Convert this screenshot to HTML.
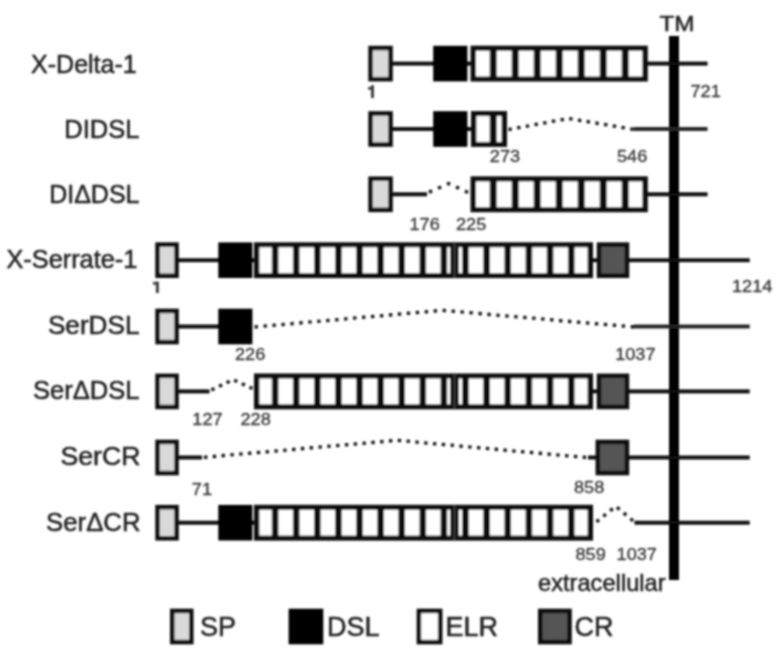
<!DOCTYPE html>
<html><head><meta charset="utf-8"><title>Figure</title>
<style>
html,body{margin:0;padding:0;background:#fff;}
body{width:779px;height:667px;overflow:hidden;}
svg{display:block;font-family:"Liberation Sans",sans-serif;}
</style></head><body>
<svg width="779" height="667" viewBox="0 0 779 667">
<defs><filter id="b" x="-2%" y="-2%" width="104%" height="104%"><feConvolveMatrix order="5" kernelMatrix="1 4 6 4 1 4 16 24 16 4 6 24 36 24 6 4 16 24 16 4 1 4 6 4 1" divisor="256" edgeMode="duplicate" preserveAlpha="false"/></filter></defs>
<rect width="779" height="667" fill="#fff"/>
<g filter="url(#b)">
<rect x="669.00" y="36.00" width="10.00" height="544.00" fill="#000"/>
<rect x="392.00" y="61.65" width="42.00" height="3.90" fill="#0a0a0a"/>
<rect x="466.00" y="61.65" width="6.00" height="3.90" fill="#0a0a0a"/>
<rect x="647.00" y="61.65" width="60.50" height="3.90" fill="#0a0a0a"/>
<rect x="368.30" y="45.80" width="24.50" height="35.60" fill="#0a0a0a"/>
<rect x="372.80" y="50.30" width="15.50" height="26.60" fill="#d9d9d9"/>
<rect x="433.20" y="45.80" width="34.20" height="35.60" fill="#000"/>
<rect x="470.60" y="45.70" width="177.20" height="35.80" fill="#0a0a0a"/>
<rect x="476.00" y="50.70" width="13.70" height="25.80" fill="#fff"/>
<rect x="496.70" y="50.70" width="15.00" height="25.80" fill="#fff"/>
<rect x="518.70" y="50.70" width="15.00" height="25.80" fill="#fff"/>
<rect x="540.70" y="50.70" width="15.00" height="25.80" fill="#fff"/>
<rect x="562.70" y="50.70" width="15.00" height="25.80" fill="#fff"/>
<rect x="584.70" y="50.70" width="15.00" height="25.80" fill="#fff"/>
<rect x="606.70" y="50.70" width="15.00" height="25.80" fill="#fff"/>
<rect x="628.70" y="50.70" width="13.70" height="25.80" fill="#fff"/>
<rect x="392.00" y="127.05" width="42.00" height="3.90" fill="#0a0a0a"/>
<rect x="466.00" y="127.05" width="6.00" height="3.90" fill="#0a0a0a"/>
<rect x="633.50" y="127.05" width="74.00" height="3.90" fill="#222"/>
<rect x="368.30" y="111.20" width="24.50" height="35.60" fill="#0a0a0a"/>
<rect x="372.80" y="115.70" width="15.50" height="26.60" fill="#d9d9d9"/>
<rect x="433.20" y="111.20" width="34.20" height="35.60" fill="#000"/>
<rect x="471.00" y="111.10" width="36.00" height="35.80" fill="#0a0a0a"/>
<rect x="476.40" y="116.10" width="13.30" height="25.80" fill="#fff"/>
<rect x="496.70" y="116.10" width="4.90" height="25.80" fill="#fff"/>
<path d="M508.5 129.6 L568.5 118.4 L633.5 129.4" fill="none" stroke="#111" stroke-width="3.3" stroke-dasharray="3.300 5.533"/>
<rect x="392.00" y="192.35" width="35.00" height="3.90" fill="#0a0a0a"/>
<rect x="647.00" y="192.35" width="60.50" height="3.90" fill="#0a0a0a"/>
<rect x="368.30" y="176.50" width="24.50" height="35.60" fill="#0a0a0a"/>
<rect x="372.80" y="181.00" width="15.50" height="26.60" fill="#d9d9d9"/>
<rect x="470.60" y="176.40" width="177.20" height="35.80" fill="#0a0a0a"/>
<rect x="476.00" y="181.40" width="13.70" height="25.80" fill="#fff"/>
<rect x="496.70" y="181.40" width="15.00" height="25.80" fill="#fff"/>
<rect x="518.70" y="181.40" width="15.00" height="25.80" fill="#fff"/>
<rect x="540.70" y="181.40" width="15.00" height="25.80" fill="#fff"/>
<rect x="562.70" y="181.40" width="15.00" height="25.80" fill="#fff"/>
<rect x="584.70" y="181.40" width="15.00" height="25.80" fill="#fff"/>
<rect x="606.70" y="181.40" width="15.00" height="25.80" fill="#fff"/>
<rect x="628.70" y="181.40" width="13.70" height="25.80" fill="#fff"/>
<path d="M429.0 192.2 L448.7 183.6 L468.0 192.5" fill="none" stroke="#111" stroke-width="3.3" stroke-dasharray="3.300 6.562"/>
<rect x="178.00" y="258.25" width="41.00" height="3.90" fill="#0a0a0a"/>
<rect x="251.00" y="258.25" width="5.00" height="3.90" fill="#0a0a0a"/>
<rect x="592.00" y="258.25" width="6.00" height="3.90" fill="#0a0a0a"/>
<rect x="628.00" y="258.25" width="121.70" height="3.90" fill="#0a0a0a"/>
<rect x="155.30" y="242.40" width="23.50" height="35.60" fill="#0a0a0a"/>
<rect x="159.80" y="246.90" width="14.50" height="26.60" fill="#d9d9d9"/>
<rect x="218.30" y="242.40" width="34.10" height="35.60" fill="#000"/>
<rect x="254.00" y="242.30" width="339.00" height="35.80" fill="#0a0a0a"/>
<rect x="453.40" y="242.30" width="2.20" height="35.80" fill="#3a3a3a"/>
<rect x="259.40" y="247.30" width="12.40" height="25.80" fill="#fff"/>
<rect x="278.40" y="247.30" width="14.50" height="25.80" fill="#fff"/>
<rect x="299.50" y="247.30" width="14.50" height="25.80" fill="#fff"/>
<rect x="320.60" y="247.30" width="14.50" height="25.80" fill="#fff"/>
<rect x="341.70" y="247.30" width="14.50" height="25.80" fill="#fff"/>
<rect x="362.80" y="247.30" width="14.50" height="25.80" fill="#fff"/>
<rect x="383.90" y="247.30" width="14.50" height="25.80" fill="#fff"/>
<rect x="405.00" y="247.30" width="14.50" height="25.80" fill="#fff"/>
<rect x="426.10" y="247.30" width="14.50" height="25.80" fill="#fff"/>
<rect x="447.20" y="247.30" width="2.80" height="25.80" fill="#fff"/>
<rect x="458.80" y="247.30" width="3.30" height="25.80" fill="#fff"/>
<rect x="468.70" y="247.30" width="14.57" height="25.80" fill="#fff"/>
<rect x="489.87" y="247.30" width="14.57" height="25.80" fill="#fff"/>
<rect x="511.03" y="247.30" width="14.57" height="25.80" fill="#fff"/>
<rect x="532.20" y="247.30" width="14.57" height="25.80" fill="#fff"/>
<rect x="553.37" y="247.30" width="14.57" height="25.80" fill="#fff"/>
<rect x="574.53" y="247.30" width="13.07" height="25.80" fill="#fff"/>
<rect x="596.80" y="242.40" width="32.40" height="35.60" fill="#0a0a0a"/>
<rect x="601.30" y="246.90" width="23.40" height="26.60" fill="#555"/>
<rect x="178.00" y="324.55" width="41.00" height="3.90" fill="#0a0a0a"/>
<rect x="634.00" y="324.55" width="115.70" height="3.90" fill="#222"/>
<rect x="155.30" y="308.70" width="23.50" height="35.60" fill="#0a0a0a"/>
<rect x="159.80" y="313.20" width="14.50" height="26.60" fill="#d9d9d9"/>
<rect x="218.30" y="308.70" width="34.10" height="35.60" fill="#000"/>
<path d="M254.6 327.0 L442.0 310.3 L634.0 327.0" fill="none" stroke="#111" stroke-width="3.3" stroke-dasharray="3.300 5.690"/>
<rect x="178.00" y="389.45" width="31.50" height="3.90" fill="#0a0a0a"/>
<rect x="592.00" y="389.45" width="6.00" height="3.90" fill="#0a0a0a"/>
<rect x="628.00" y="389.45" width="121.70" height="3.90" fill="#0a0a0a"/>
<rect x="155.30" y="373.60" width="23.50" height="35.60" fill="#0a0a0a"/>
<rect x="159.80" y="378.10" width="14.50" height="26.60" fill="#d9d9d9"/>
<rect x="254.00" y="373.50" width="339.00" height="35.80" fill="#0a0a0a"/>
<rect x="453.40" y="373.50" width="2.20" height="35.80" fill="#3a3a3a"/>
<rect x="259.40" y="378.50" width="12.40" height="25.80" fill="#fff"/>
<rect x="278.40" y="378.50" width="14.50" height="25.80" fill="#fff"/>
<rect x="299.50" y="378.50" width="14.50" height="25.80" fill="#fff"/>
<rect x="320.60" y="378.50" width="14.50" height="25.80" fill="#fff"/>
<rect x="341.70" y="378.50" width="14.50" height="25.80" fill="#fff"/>
<rect x="362.80" y="378.50" width="14.50" height="25.80" fill="#fff"/>
<rect x="383.90" y="378.50" width="14.50" height="25.80" fill="#fff"/>
<rect x="405.00" y="378.50" width="14.50" height="25.80" fill="#fff"/>
<rect x="426.10" y="378.50" width="14.50" height="25.80" fill="#fff"/>
<rect x="447.20" y="378.50" width="2.80" height="25.80" fill="#fff"/>
<rect x="458.80" y="378.50" width="3.30" height="25.80" fill="#fff"/>
<rect x="468.70" y="378.50" width="14.57" height="25.80" fill="#fff"/>
<rect x="489.87" y="378.50" width="14.57" height="25.80" fill="#fff"/>
<rect x="511.03" y="378.50" width="14.57" height="25.80" fill="#fff"/>
<rect x="532.20" y="378.50" width="14.57" height="25.80" fill="#fff"/>
<rect x="553.37" y="378.50" width="14.57" height="25.80" fill="#fff"/>
<rect x="574.53" y="378.50" width="13.07" height="25.80" fill="#fff"/>
<rect x="596.80" y="373.60" width="32.40" height="35.60" fill="#0a0a0a"/>
<rect x="601.30" y="378.10" width="23.40" height="26.60" fill="#555"/>
<path d="M211.5 390.0 L233.0 379.6 L252.5 388.6" fill="none" stroke="#111" stroke-width="3.3" stroke-dasharray="3.300 5.112"/>
<rect x="178.00" y="455.55" width="24.00" height="3.90" fill="#0a0a0a"/>
<rect x="588.00" y="455.55" width="10.00" height="3.90" fill="#0a0a0a"/>
<rect x="628.00" y="455.55" width="121.70" height="3.90" fill="#0a0a0a"/>
<rect x="155.30" y="439.70" width="23.50" height="35.60" fill="#0a0a0a"/>
<rect x="159.80" y="444.20" width="14.50" height="26.60" fill="#d9d9d9"/>
<rect x="595.60" y="439.70" width="33.60" height="35.60" fill="#0a0a0a"/>
<rect x="600.10" y="444.20" width="24.60" height="26.60" fill="#555"/>
<path d="M204.0 457.3 L397.0 440.3 L586.0 457.5" fill="none" stroke="#111" stroke-width="3.3" stroke-dasharray="3.300 5.543"/>
<rect x="178.00" y="520.75" width="41.00" height="3.90" fill="#0a0a0a"/>
<rect x="251.00" y="520.75" width="5.00" height="3.90" fill="#0a0a0a"/>
<rect x="634.50" y="520.75" width="115.20" height="3.90" fill="#0a0a0a"/>
<rect x="155.30" y="504.90" width="23.50" height="35.60" fill="#0a0a0a"/>
<rect x="159.80" y="509.40" width="14.50" height="26.60" fill="#d9d9d9"/>
<rect x="218.30" y="504.90" width="34.10" height="35.60" fill="#000"/>
<rect x="254.00" y="504.80" width="339.00" height="35.80" fill="#0a0a0a"/>
<rect x="453.40" y="504.80" width="2.20" height="35.80" fill="#3a3a3a"/>
<rect x="259.40" y="509.80" width="12.40" height="25.80" fill="#fff"/>
<rect x="278.40" y="509.80" width="14.50" height="25.80" fill="#fff"/>
<rect x="299.50" y="509.80" width="14.50" height="25.80" fill="#fff"/>
<rect x="320.60" y="509.80" width="14.50" height="25.80" fill="#fff"/>
<rect x="341.70" y="509.80" width="14.50" height="25.80" fill="#fff"/>
<rect x="362.80" y="509.80" width="14.50" height="25.80" fill="#fff"/>
<rect x="383.90" y="509.80" width="14.50" height="25.80" fill="#fff"/>
<rect x="405.00" y="509.80" width="14.50" height="25.80" fill="#fff"/>
<rect x="426.10" y="509.80" width="14.50" height="25.80" fill="#fff"/>
<rect x="447.20" y="509.80" width="2.80" height="25.80" fill="#fff"/>
<rect x="458.80" y="509.80" width="3.30" height="25.80" fill="#fff"/>
<rect x="468.70" y="509.80" width="14.57" height="25.80" fill="#fff"/>
<rect x="489.87" y="509.80" width="14.57" height="25.80" fill="#fff"/>
<rect x="511.03" y="509.80" width="14.57" height="25.80" fill="#fff"/>
<rect x="532.20" y="509.80" width="14.57" height="25.80" fill="#fff"/>
<rect x="553.37" y="509.80" width="14.57" height="25.80" fill="#fff"/>
<rect x="574.53" y="509.80" width="13.07" height="25.80" fill="#fff"/>
<path d="M596.5 521.8 L615.7 506.2 L633.0 520.8" fill="none" stroke="#111" stroke-width="3.3" stroke-dasharray="3.300 5.515"/>
<rect x="170.00" y="608.70" width="23.50" height="35.60" fill="#0a0a0a"/>
<rect x="174.50" y="613.20" width="14.50" height="26.60" fill="#d9d9d9"/>
<rect x="288.60" y="608.70" width="34.70" height="35.60" fill="#000"/>
<rect x="416.70" y="608.70" width="25.70" height="35.60" fill="#0a0a0a"/>
<rect x="421.20" y="613.20" width="16.70" height="26.60" fill="#fff"/>
<rect x="538.00" y="608.70" width="33.80" height="35.60" fill="#0a0a0a"/>
<rect x="542.50" y="613.20" width="24.80" height="26.60" fill="#555"/>
<text transform="translate(136.7 73) scale(1.0 1)" font-size="25" text-anchor="end" fill="#222" stroke="#222" stroke-width="0.5">X-Delta-1</text>
<text transform="translate(139.5 137.8) scale(1.022 1)" font-size="25" text-anchor="end" fill="#222" stroke="#222" stroke-width="0.5">DIDSL</text>
<text transform="translate(139.5 203.2) scale(1.0 1)" font-size="25" text-anchor="end" fill="#222" stroke="#222" stroke-width="0.5">DI&#916;DSL</text>
<text transform="translate(137.3 268.3) scale(1.013 1)" font-size="25" text-anchor="end" fill="#222" stroke="#222" stroke-width="0.5">X-Serrate-1</text>
<text transform="translate(139.5 334.2) scale(1.047 1)" font-size="25" text-anchor="end" fill="#222" stroke="#222" stroke-width="0.5">SerDSL</text>
<text transform="translate(139.5 399.3) scale(1.023 1)" font-size="25" text-anchor="end" fill="#222" stroke="#222" stroke-width="0.5">Ser&#916;DSL</text>
<text transform="translate(140.5 464.7) scale(1.068 1)" font-size="25" text-anchor="end" fill="#222" stroke="#222" stroke-width="0.5">SerCR</text>
<text transform="translate(140.5 530.8) scale(1.03 1)" font-size="25" text-anchor="end" fill="#222" stroke="#222" stroke-width="0.5">Ser&#916;CR</text>
<text transform="translate(659.6 30.5) scale(1.1 1)" font-size="22" text-anchor="start" fill="#222" stroke="#222" stroke-width="0.5">TM</text>
<text transform="translate(538 591) scale(1.03 1)" font-size="23" text-anchor="start" fill="#222" stroke="#222" stroke-width="0.5">extracellular</text>
<text transform="translate(200 636.4) scale(1.0 1)" font-size="27" text-anchor="start" fill="#222" stroke="#222" stroke-width="0.5">SP</text>
<text transform="translate(327 636.4) scale(1.0 1)" font-size="27" text-anchor="start" fill="#222" stroke="#222" stroke-width="0.5">DSL</text>
<text transform="translate(445.5 636.4) scale(1.0 1)" font-size="27" text-anchor="start" fill="#222" stroke="#222" stroke-width="0.5">ELR</text>
<text transform="translate(574.5 636.4) scale(1.0 1)" font-size="27" text-anchor="start" fill="#222" stroke="#222" stroke-width="0.5">CR</text>
<rect x="371.00" y="85.20" width="2.90" height="12.80" fill="#3a3a3a"/>
<rect x="368.00" y="86.90" width="3.20" height="2.80" fill="#444"/>
<rect x="155.90" y="281.50" width="2.90" height="11.50" fill="#3a3a3a"/>
<rect x="152.90" y="281.90" width="3.20" height="2.80" fill="#444"/>
<text transform="translate(690.5 96.7) scale(1.1 1)" font-size="16.5" text-anchor="start" fill="#3c3c3c" stroke="#3c3c3c" stroke-width="0.35">721</text>
<text transform="translate(489.8 162) scale(1.1 1)" font-size="16.5" text-anchor="start" fill="#3c3c3c" stroke="#3c3c3c" stroke-width="0.35">273</text>
<text transform="translate(617 162) scale(1.1 1)" font-size="16.5" text-anchor="start" fill="#3c3c3c" stroke="#3c3c3c" stroke-width="0.35">546</text>
<text transform="translate(409.5 229.6) scale(1.1 1)" font-size="16.5" text-anchor="start" fill="#3c3c3c" stroke="#3c3c3c" stroke-width="0.35">176</text>
<text transform="translate(456 229.6) scale(1.1 1)" font-size="16.5" text-anchor="start" fill="#3c3c3c" stroke="#3c3c3c" stroke-width="0.35">225</text>
<text transform="translate(732 291.8) scale(1.1 1)" font-size="16.5" text-anchor="start" fill="#3c3c3c" stroke="#3c3c3c" stroke-width="0.35">1214</text>
<text transform="translate(235 359.6) scale(1.1 1)" font-size="16.5" text-anchor="start" fill="#3c3c3c" stroke="#3c3c3c" stroke-width="0.35">226</text>
<text transform="translate(615.2 359.8) scale(1.1 1)" font-size="16.5" text-anchor="start" fill="#3c3c3c" stroke="#3c3c3c" stroke-width="0.35">1037</text>
<text transform="translate(192.3 425) scale(1.1 1)" font-size="16.5" text-anchor="start" fill="#3c3c3c" stroke="#3c3c3c" stroke-width="0.35">127</text>
<text transform="translate(240.5 425) scale(1.1 1)" font-size="16.5" text-anchor="start" fill="#3c3c3c" stroke="#3c3c3c" stroke-width="0.35">228</text>
<text transform="translate(191.8 494.8) scale(1.1 1)" font-size="16.5" text-anchor="start" fill="#3c3c3c" stroke="#3c3c3c" stroke-width="0.35">71</text>
<text transform="translate(574 492.8) scale(1.1 1)" font-size="16.5" text-anchor="start" fill="#3c3c3c" stroke="#3c3c3c" stroke-width="0.35">858</text>
<text transform="translate(575.5 560.1) scale(1.1 1)" font-size="16.5" text-anchor="start" fill="#3c3c3c" stroke="#3c3c3c" stroke-width="0.35">859</text>
<text transform="translate(616.6 560.1) scale(1.1 1)" font-size="16.5" text-anchor="start" fill="#3c3c3c" stroke="#3c3c3c" stroke-width="0.35">1037</text>
</g>
</svg>
</body></html>
